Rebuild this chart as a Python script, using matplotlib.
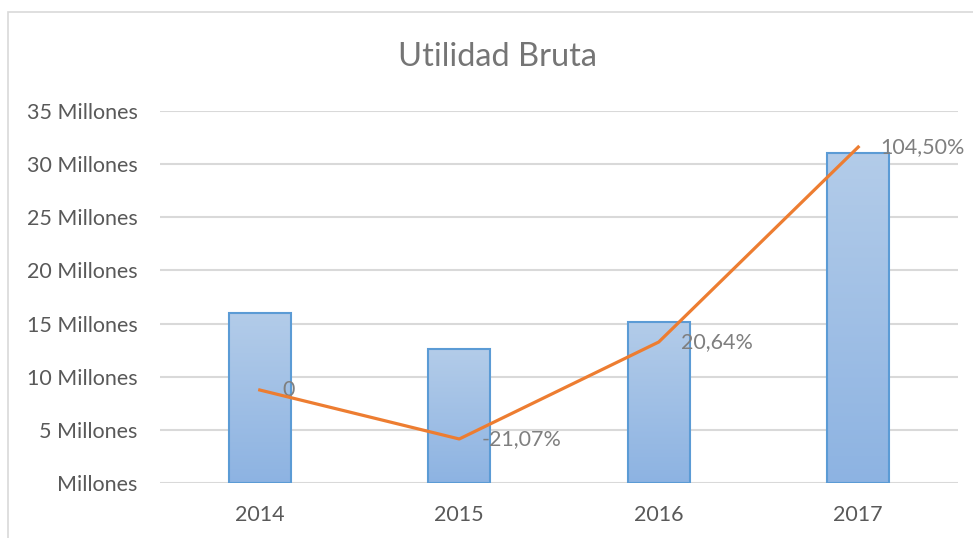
import numpy as np
import matplotlib.pyplot as plt
from matplotlib.patches import Rectangle
from matplotlib.colors import LinearSegmentedColormap

years = ['2014', '2015', '2016', '2017']
utilidad = [16.0, 12.6, 15.15, 31.05]          # millones
variacion = [0.0, -21.07, 20.64, 104.50]        # %
var_labels = ['0', '-21,07%', '20,64%', '104,50%']
yticks = [0, 5, 10, 15, 20, 25, 30, 35]

plt.rcParams['font.family'] = ['Lato', 'DejaVu Sans']

W, H = 973, 538
fig = plt.figure(figsize=(W / 100, H / 100), dpi=100)

# chart border (cropped on the right/bottom)
fig.patches.append(Rectangle((8 / W, -0.1), 1.2, (538 - 12) / H + 0.1,
                             transform=fig.transFigure, fill=False,
                             edgecolor='#d9d9d9', linewidth=1.2))

ax = fig.add_axes([160 / W, (538 - 483) / H, (958 - 160) / W, (483 - 111) / H])
x = np.arange(len(years))
bars = ax.bar(x, utilidad, width=0.31, facecolor='none', edgecolor='#5b9bd5',
              linewidth=1.5, zorder=3)

# vertical gradient inside each bar
grad = np.linspace(0, 1, 256).reshape(-1, 1)
cmap = LinearSegmentedColormap.from_list('g', ['#8db3e2', '#b3cce9'])
for b in bars:
    x0, w, h = b.get_x(), b.get_width(), b.get_height()
    im = ax.imshow(grad, extent=[x0, x0 + w, 0, h], origin='lower', cmap=cmap,
                   aspect='auto', zorder=2)
    im.set_clip_path(b)

ax.set_xlim(-0.5, len(years) - 0.5)
ax.set_ylim(0, 35)
ax.set_yticks(yticks)
ax.set_yticklabels([('%d Millones' % v) if v else 'Millones' for v in yticks])
ax.set_xticks(x)
ax.set_xticklabels(years)
ax.tick_params(length=0, labelsize=15.5, colors='#595959', pad=16)
ax.tick_params(axis='x', pad=16)
ax.grid(axis='y', color='#d9d9d9', linewidth=1.5, zorder=0)
ax.set_axisbelow(True)
for s in ax.spines.values():
    s.set_visible(False)

ax2 = ax.twinx()
ax2.plot(x, variacion, color='#ed7d31', linewidth=2.3, zorder=5)
ax2.set_ylim(-40, 120)
ax2.set_axis_off()
for xi, v, lab in zip(x, variacion, var_labels):
    ax2.annotate(lab, (xi, v), xytext=(16, 0), textcoords='offset points',
                 ha='left', va='center', fontsize=15.5, color='#7f7f7f')

fig.text((389 + 605) / 2 / W, 1 - 57 / H, 'Utilidad Bruta', ha='center',
         va='center', fontsize=23.5, color='#757575')

fig.savefig('out.png', dpi=100)
